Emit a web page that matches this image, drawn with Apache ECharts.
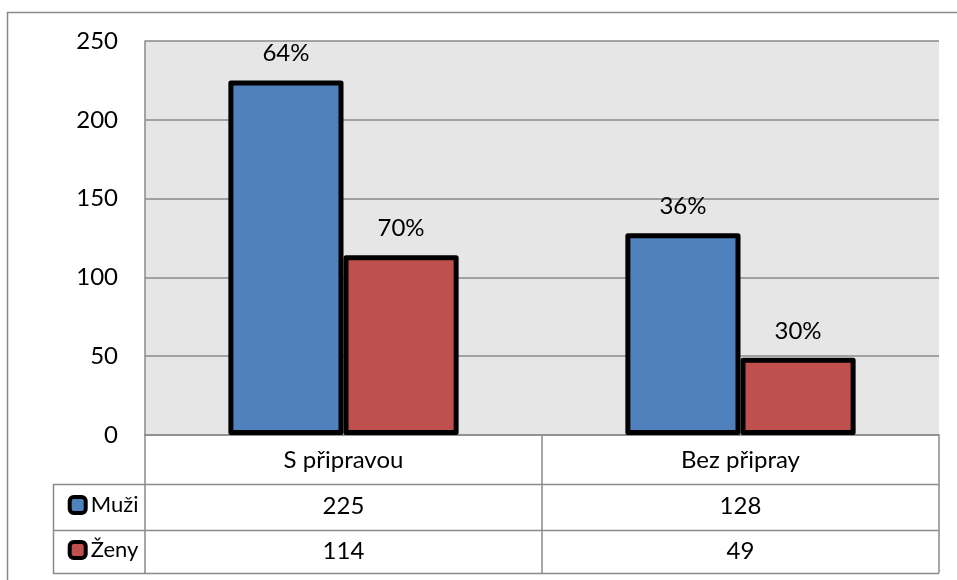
<!DOCTYPE html>
<html>
<head>
<meta charset="utf-8">
<script src="https://cdn.jsdelivr.net/npm/echarts@6/dist/echarts.min.js"></script>
<style>
  html, body { margin: 0; padding: 0; background: #fff; }
  #chart { width: 957px; height: 580px; }
</style>
</head>
<body>
<div id="chart"></div>
<script>
// Chart data
const categories = ['S připravou', 'Bez připray'];
const seriesNames = ['Muži', 'Ženy'];
const muzi = [225, 128];
const zeny = [114, 49];
const yTicks = { min: 0, max: 250, interval: 50 };

const FONT = 'Lato';
const FONT_SIZE = 24;
const GRID_LINE = '#8a8a8a';
const seriesValues = [muzi, zeny];

// Share of each group within its own series, shown above the bar
function shareLabel(values) {
  const total = values.reduce((a, b) => a + b, 0);
  return p => Math.round(p.value / total * 100) + '%';
}

const chart = echarts.init(document.getElementById('chart'));

// Data-table rows rendered as extra category axes below the plot
function tableAxis(offset, formatter) {
  return {
    type: 'category',
    data: categories,
    position: 'bottom',
    offset: offset,
    axisLine: { show: false },
    axisTick: { show: false },
    splitLine: { show: false },
    axisLabel: {
      margin: 0,
      verticalAlign: 'middle',
      fontFamily: FONT,
      fontSize: FONT_SIZE,
      color: '#000',
      formatter: formatter
    }
  };
}

const option = {
  animation: false,
  textStyle: { fontFamily: FONT },
  grid: {
    left: 145, right: 18, top: 41, bottom: 145,
    show: true, backgroundColor: '#e6e6e6', borderWidth: 0
  },
  legend: {
    orient: 'vertical',
    left: 62.7, top: 488,
    itemWidth: 16, itemHeight: 16,
    itemGap: 21,
    icon: 'roundRect',
    itemStyle: { borderColor: '#000', borderWidth: 4 },
    textStyle: { fontFamily: FONT, fontSize: 22, color: '#000', lineHeight: 24 },
    data: seriesNames
  },
  xAxis: [
    {
      type: 'category',
      data: categories,
      position: 'bottom',
      axisLine: { show: true, lineStyle: { color: GRID_LINE, width: 1.5 } },
      axisTick: { show: true, length: 138, lineStyle: { color: GRID_LINE, width: 1.5 } },
      splitLine: { show: false },
      axisLabel: {
        margin: 25, verticalAlign: 'middle',
        fontFamily: FONT, fontSize: FONT_SIZE, color: '#000'
      }
    },
    tableAxis(71, (v, i) => String(muzi[i])),
    tableAxis(116, (v, i) => String(zeny[i]))
  ],
  yAxis: {
    type: 'value',
    min: yTicks.min, max: yTicks.max, interval: yTicks.interval,
    axisLine: { show: true, lineStyle: { color: GRID_LINE, width: 1.5 } },
    axisTick: { show: false },
    splitLine: { show: true, lineStyle: { color: GRID_LINE, width: 1.5 } },
    axisLabel: { margin: 27, fontFamily: FONT, fontSize: FONT_SIZE, color: '#000' }
  },
  series: seriesNames.map((name, k) => ({
    name: name,
    type: 'bar',
    xAxisIndex: 0,
    data: seriesValues[k],
    barGap: '0%',
    barCategoryGap: '42%',
    itemStyle: {
      color: k === 0 ? '#4f81bd' : '#c0504d',
      borderColor: '#000',
      borderWidth: 5,
      borderJoin: 'round'
    },
    label: {
      show: true,
      position: 'top',
      distance: 15,
      fontFamily: FONT,
      fontSize: FONT_SIZE,
      color: '#000',
      formatter: shareLabel(seriesValues[k])
    }
  })),
  graphic: [
    // outer chart frame (top and left edges)
    { type: 'polyline', silent: true,
      shape: { points: [[7.5, 580], [7.5, 12.5], [957, 12.5]] },
      style: { stroke: GRID_LINE, lineWidth: 1.5, fill: null } },
    // data-table rules
    { type: 'line', silent: true, shape: { x1: 53, y1: 484.5, x2: 939, y2: 484.5 },
      style: { stroke: GRID_LINE, lineWidth: 1.5 } },
    { type: 'line', silent: true, shape: { x1: 53, y1: 530.5, x2: 939, y2: 530.5 },
      style: { stroke: GRID_LINE, lineWidth: 1.5 } },
    { type: 'line', silent: true, shape: { x1: 53, y1: 573.5, x2: 939, y2: 573.5 },
      style: { stroke: GRID_LINE, lineWidth: 1.5 } },
    { type: 'line', silent: true, shape: { x1: 53.5, y1: 484, x2: 53.5, y2: 574 },
      style: { stroke: GRID_LINE, lineWidth: 1.5 } }
  ]
};

chart.setOption(option);
</script>
</body>
</html>
